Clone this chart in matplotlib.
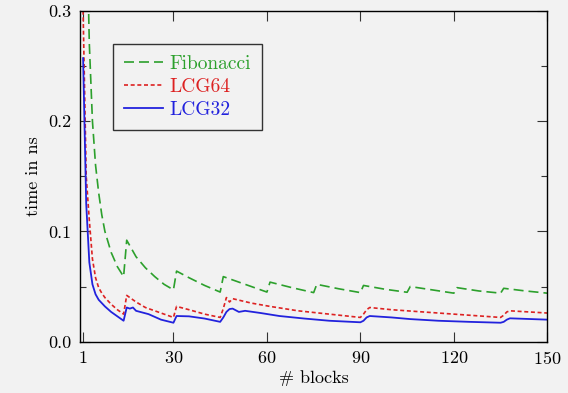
import matplotlib
matplotlib.use("Agg")
import matplotlib.pyplot as plt
from matplotlib.ticker import FormatStrFormatter, MultipleLocator

# values (x = # blocks, y = time in ns)
fib_x = [1, 2, 3, 4, 5, 6, 7, 8, 10, 12, 14,
         15, 18, 21, 24, 27, 30,
         31, 35, 40, 45,
         46, 50, 55, 60,
         61, 68, 75,
         76, 83, 90,
         91, 98, 105,
         106, 113, 120,
         121, 128, 135,
         136, 143, 150]
fib_y = [0.80, 0.40, 0.27, 0.20, 0.16, 0.135, 0.115, 0.100, 0.081, 0.068, 0.059,
         0.092, 0.077, 0.067, 0.059, 0.052, 0.047,
         0.064, 0.058, 0.051, 0.045,
         0.059, 0.055, 0.050, 0.045,
         0.054, 0.049, 0.0445,
         0.052, 0.048, 0.0445,
         0.051, 0.0475, 0.0448,
         0.050, 0.047, 0.044,
         0.049, 0.046, 0.044,
         0.0484, 0.046, 0.044]

lcg64_x = [1, 2, 3, 4, 5, 6, 7, 8, 10, 12, 14,
           15, 18, 21, 25, 30,
           31, 35, 40, 45, 46, 47, 48, 49,
           55, 61, 70, 80, 90, 91, 92, 93,
           100, 110, 120, 130, 135, 136, 137, 138, 150]
lcg64_y = [0.30, 0.15, 0.11, 0.075, 0.058, 0.049, 0.044, 0.040, 0.034, 0.029, 0.025,
           0.042, 0.036, 0.031, 0.027, 0.022,
           0.032, 0.029, 0.025, 0.022, 0.030, 0.040, 0.036, 0.039,
           0.035, 0.032, 0.028, 0.025, 0.022, 0.025, 0.029, 0.031,
           0.029, 0.027, 0.025, 0.023, 0.022, 0.024, 0.027, 0.028, 0.026]

lcg32_x = [1, 2, 3, 4, 5, 6, 8, 10, 12, 14,
           15, 16, 17, 18, 22, 26, 30,
           31, 35, 40, 45, 46, 47, 48, 49, 51, 53,
           58, 64, 72, 80, 90, 91, 92, 93,
           100, 106, 115, 125, 135, 136, 137, 138, 150]
lcg32_y = [0.257, 0.125, 0.072, 0.052, 0.043, 0.038, 0.032, 0.027, 0.023, 0.019,
           0.031, 0.030, 0.031, 0.028, 0.025, 0.020, 0.0172,
           0.0233, 0.023, 0.021, 0.018, 0.022, 0.027, 0.0296, 0.030, 0.027, 0.028,
           0.026, 0.0233, 0.021, 0.019, 0.0176, 0.019, 0.022, 0.0233,
           0.022, 0.0205, 0.019, 0.018, 0.0172, 0.018, 0.020, 0.0212, 0.020]

x_ticks = [1, 30, 60, 90, 120, 150]
bg = "#f2f2f2"

plt.rcParams["font.family"] = ["cmr10"]
plt.rcParams["axes.formatter.use_mathtext"] = True
plt.rcParams["mathtext.fontset"] = "cm"
plt.rcParams["font.size"] = 13

fig = plt.figure(figsize=(5.68, 3.93), dpi=100, facecolor=bg)
ax = fig.add_axes([0.1408, 0.1305, 0.8228, 0.8423], facecolor=bg)

ax.plot(fib_x, fib_y, color="#2ca02c", lw=1.2, dashes=(6, 3), label="Fibonacci")
ax.plot(lcg64_x, lcg64_y, color="#dd2222", lw=1.2, dashes=(2.4, 1.6), label="LCG64")
ax.plot(lcg32_x, lcg32_y, color="#2222dd", lw=1.3, label="LCG32")

ax.set_xlim(0, 150)
ax.set_ylim(0, 0.3)
ax.set_xticks(x_ticks)
ax.yaxis.set_major_locator(MultipleLocator(0.1))
ax.yaxis.set_minor_locator(MultipleLocator(0.05))
ax.yaxis.set_major_formatter(FormatStrFormatter("%.1f"))
ax.tick_params(which="both", direction="in", top=True, right=True, color="#333333")
ax.tick_params(which="major", length=7, width=0.8, pad=6)
ax.tick_params(which="minor", length=4, width=0.8)
for s in ax.spines.values():
    s.set_linewidth(1.0)
    s.set_color("black")

ax.set_xlabel("# blocks", labelpad=2)
ax.set_ylabel("time in ns", labelpad=5)

leg = ax.legend(loc="upper left", bbox_to_anchor=(0.071, 0.898), borderaxespad=0,
                fancybox=False, facecolor=bg, edgecolor="#333333", framealpha=1,
                fontsize=14, handlelength=2.0, handletextpad=0.35,
                labelspacing=0.26, borderpad=0.55)
leg.get_frame().set_linewidth(1.0)
for t, c in zip(leg.get_texts(), ["#2ca02c", "#dd2222", "#2222dd"]):
    t.set_color(c)

fig.savefig("out.png", dpi=100, facecolor=bg)
